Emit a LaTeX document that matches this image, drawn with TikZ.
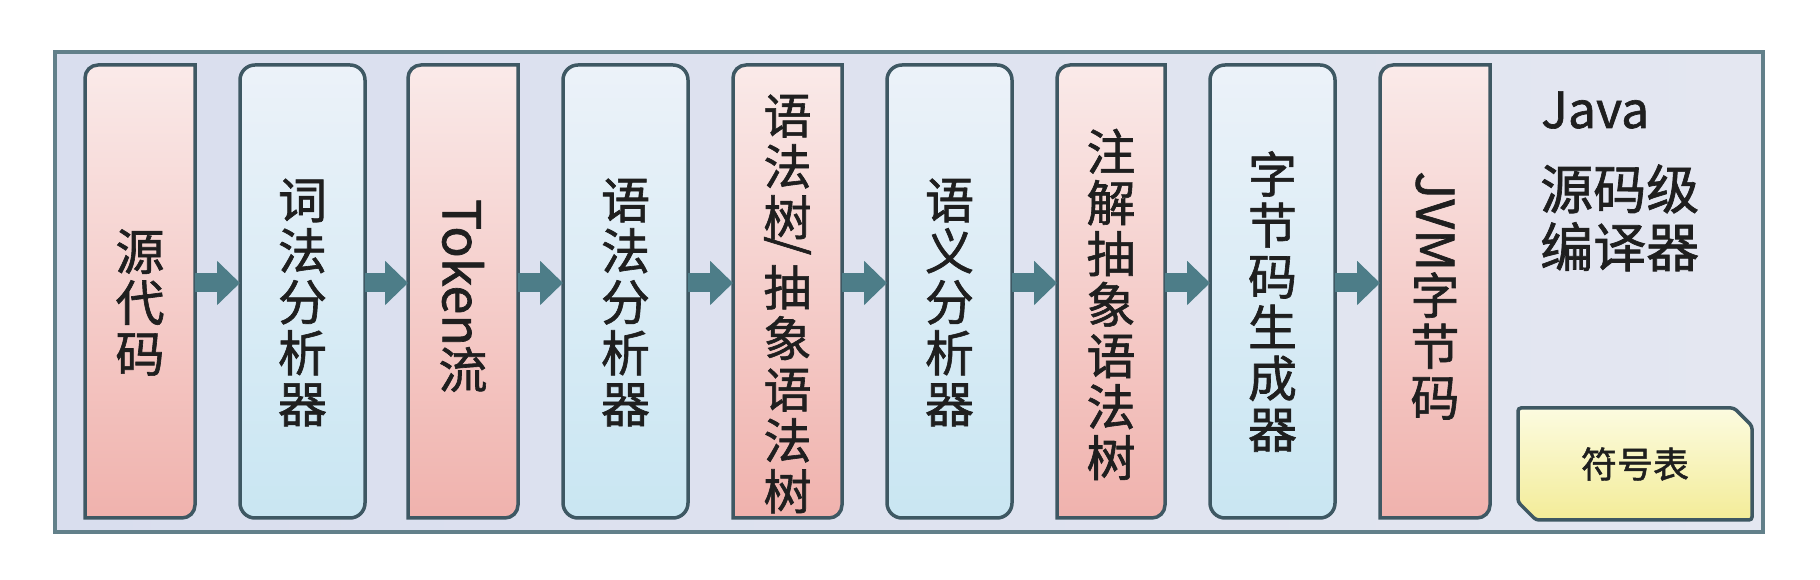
\documentclass[tikz,border=0pt]{standalone}
\usepackage{fontspec}
\newfontfamily\cjk[FakeBold=1.3]{Noto Sans CJK SC}
\usetikzlibrary{arrows.meta,calc}
\definecolor{framefillL}{HTML}{D9DEEE}
\definecolor{framefillR}{HTML}{E4E7F1}
\definecolor{frameline}{HTML}{62808A}
\definecolor{boxline}{HTML}{3E5863}
\definecolor{pinktop}{HTML}{FAEAE9}
\definecolor{pinkbot}{HTML}{F0B2AD}
\definecolor{bluetop}{HTML}{ECF2F9}
\definecolor{bluebot}{HTML}{C9E6F2}
\definecolor{arrowc}{HTML}{4D7D88}
\definecolor{symtop}{HTML}{FCFBE0}
\definecolor{symbot}{HTML}{F3EC98}
\definecolor{txt}{HTML}{1F1F1F}
\newcommand\pinkoutline[1]{%
  \path[pinkfill] ([yshift=-13]#1.north west) arc[start angle=180,end angle=90,radius=13]
    -- (#1.north east) -- ([yshift=13]#1.south east)
    arc[start angle=0,end angle=-90,radius=13] -- (#1.south west) -- cycle;}
\tikzset{
  outerframe/.style={rectangle, draw=frameline, line width=3.5pt, left color=framefillL, right color=framefillR,
     minimum width=1708pt, minimum height=480pt, outer sep=0pt, inner sep=0pt},
  pinkslot/.style={rectangle, minimum width=110pt, minimum height=453pt, outer sep=0pt, inner sep=0pt},
  pinkfill/.style={draw=boxline, line width=3.5pt, top color=pinktop, bottom color=pinkbot},
  bluebox/.style={rectangle, rounded corners=15pt, draw=boxline, line width=3.5pt, top color=bluetop, bottom color=bluebot,
     minimum width=125pt, minimum height=453pt, outer sep=0pt, inner sep=0pt},
  symslot/.style={rectangle, minimum width=234pt, minimum height=112pt, outer sep=0pt, inner sep=0pt},
  symfill/.style={draw=boxline, line width=3.5pt, rounded corners=3pt, top color=symtop, bottom color=symbot},
  lbl/.style={font=\cjk\fontsize{49}{51}\selectfont, align=center, text=txt, inner sep=0pt},
  lblsmall/.style={font=\cjk\fontsize{48}{51}\selectfont, align=center, text=txt, inner sep=0pt},
  flow/.style={draw=arrowc, line width=19pt, -{Triangle[length=23pt,width=43pt]}},
  titletext/.style={font=\cjk\fontsize{53}{59}\selectfont, text=txt, inner sep=0pt, anchor=base west},
}
\newcommand\lat[1]{\rotatebox{-90}{\fontsize{52}{52}\selectfont #1}}
\begin{document}
\begin{tikzpicture}[x=1pt,y=1pt]
\useasboundingbox (0,0) rectangle (1820,580);
\fill[white] (0,0) rectangle (1820,580);
\node[outerframe] (frame) at (909,288) {};
% boxes
\node[pinkslot] (b1) at (140,288.5) {};
\pinkoutline{b1}
\node[bluebox] (b2) at (302.5,288.5) {};
\node[pinkslot] (b3) at (463,288.5) {};
\pinkoutline{b3}
\node[bluebox] (b4) at (625.5,288.5) {};
\node[pinkslot,minimum width=109pt] (b5) at (787.5,288.5) {};
\pinkoutline{b5}
\node[bluebox] (b6) at (949.5,288.5) {};
\node[pinkslot,minimum width=108pt] (b7) at (1111,288.5) {};
\pinkoutline{b7}
\node[bluebox] (b8) at (1272.5,288.5) {};
\node[pinkslot] (b9) at (1435,288.5) {};
\pinkoutline{b9}
\node[symslot] (sym) at (1635,116) {};
\path[symfill] (sym.north west) -- ([xshift=-18]sym.north east) -- ([yshift=-18]sym.north east)
   -- (sym.south east) -- ([xshift=18]sym.south west) -- ([yshift=18]sym.south west) -- cycle;
% arrows
\foreach \a/\b in {b1/b2,b2/b3,b3/b4,b4/b5,b5/b6,b6/b7,b7/b8,b8/b9}
  \draw[flow] ([yshift=8.5]\a.east) -- ([yshift=8.5]\b.west);
% labels
\node[lbl] (t1) at ($(b1.center)+(0,-11)$) {源\\代\\码};
\node[lbl] (t2) at ($(b2.center)+(0,-11)$) {词\\法\\分\\析\\器};
\node[lbl] (t3) at ($(b3.center)+(0,-4)$) {\lat{Token}\\流};
\node[lbl] (t4) at ($(b4.center)+(0,-11)$) {语\\法\\分\\析\\器};
\node[lblsmall] (t5) at ($(b5.center)+(0,-12.5)$) {语\\法\\树\\[-26pt]\rotatebox[origin=c]{-90}{/}\\[-6pt]抽\\象\\语\\法\\树};
\node[lbl] (t6) at ($(b6.center)+(0,-11)$) {语\\义\\分\\析\\器};
\node[lbl] (t7) at ($(b7.center)+(0,-13)$) {注\\解\\抽\\象\\语\\法\\树};
\node[lbl] (t8) at ($(b8.center)+(0,-10)$) {字\\节\\码\\生\\成\\器};
\node[lbl] (t9) at ($(b9.center)+(0,-4)$) {\lat{JVM}\\字\\节\\码};
\node[font=\cjk\fontsize{36}{40}\selectfont, text=txt, inner sep=0pt] (symt) at (sym.center) {符号表};
\node[titletext, font=\cjk\fontsize{50}{52}\selectfont] (ti1) at (1541,452) {Java};
\node[titletext] (ti2) at (1540,371) {源码级};
\node[titletext] (ti3) at (1540,313) {编译器};
\end{tikzpicture}
\end{document}
